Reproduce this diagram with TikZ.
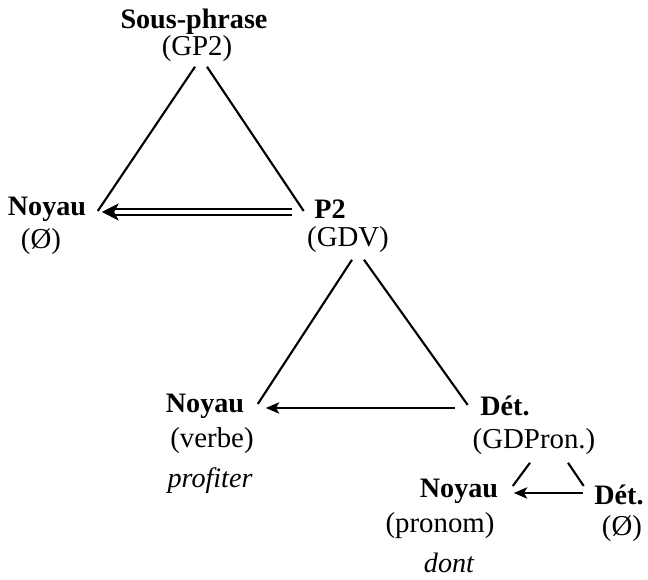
\documentclass[tikz,border=0pt]{standalone}
\usepackage{fontspec}
\setmainfont{Liberation Serif}
\usetikzlibrary{calc,arrows.meta}

\tikzset{
  tete/.style={font=\fontsize{8}{9.6}\selectfont\bfseries, inner sep=0pt},
  cat/.style={font=\fontsize{8.2}{9.8}\selectfont, inner sep=0pt},
  mot/.style={font=\fontsize{8}{9.6}\selectfont\itshape, inner sep=0pt},
  trait/.style={line width=0.6pt},
  fleche/.style={line width=0.65pt, -{Stealth[length=3.8pt,width=3.2pt,inset=0.9pt]}},
  dfleche/.style={double, line width=0.6pt, double distance=0.9pt,
    -{Stealth[length=4.8pt,width=4.8pt,inset=1.3pt]}}
}

\begin{document}
\begin{tikzpicture}[x=0.01cm, y=-0.01cm]
        \useasboundingbox (0,0) rectangle (648,580);

        % === SOUS-PHRASE ===
        \node[tete] (sp) at (194,22) {Sous-phrase};
        \node[cat] (gp) at (197,49) {(GP2)};
        \node[tete] (noyA) at (47,209) {Noyau};
        \node[cat] (videA) at (41,242) {(Ø)};
        \node[tete] (ptwo) at (330,209) {P2};
        \node[cat] (gdv) at (348,240) {(GDV)};

        \draw[trait] ($(gp.south)+(-2,4)$) -- ($(noyA.east)+(11,2)$);
        \draw[trait] ($(gp.south)+(10,4)$) -- ($(ptwo.west)+(-10,2)$);
        \draw[dfleche] ($(ptwo.west)+(-22,3)$) -- ($(noyA.east)+(15,3)$);

        % === P2 ===
        \node[tete] (noyB) at (205,406) {Noyau};
        \node[cat] (verbe) at (212,441) {(verbe)};
        \node[mot] (profiter) at (210,481) {profiter};
        \node[tete] (detA) at (505,406) {Dét.};
        \node[cat] (gdpron) at (534,442) {(GDPron.)};

        \draw[trait] ($(gdv.south)+(4,6)$) -- ($(noyB.east)+(13,-2)$);
        \draw[trait] ($(gdv.south)+(16,6)$) -- ($(detA.west)+(-12,-1)$);
        \draw[fleche] ($(detA.west)+(-25,2)$) -- ($(noyB.east)+(21,2)$);

        % === GDPRON ===
        \node[tete] (noyC) at (459,491) {Noyau};
        \node[cat] (pronom) at (440,526) {(pronom)};
        \node[mot] (dont) at (449,563) {dont};
        \node[tete] (detB) at (619,495) {Dét.};
        \node[cat] (videB) at (622,529) {(Ø)};

        \draw[trait] ($(gdpron.south)+(-4,7)$) -- ($(noyC.east)+(14,-5)$);
        \draw[trait] ($(gdpron.south)+(34,7)$) -- ($(detB.west)+(-10,-9)$);
        \draw[fleche] ($(detB.west)+(-11,-2)$) -- ($(noyC.east)+(15,2)$);

    \end{tikzpicture}
\end{document}
